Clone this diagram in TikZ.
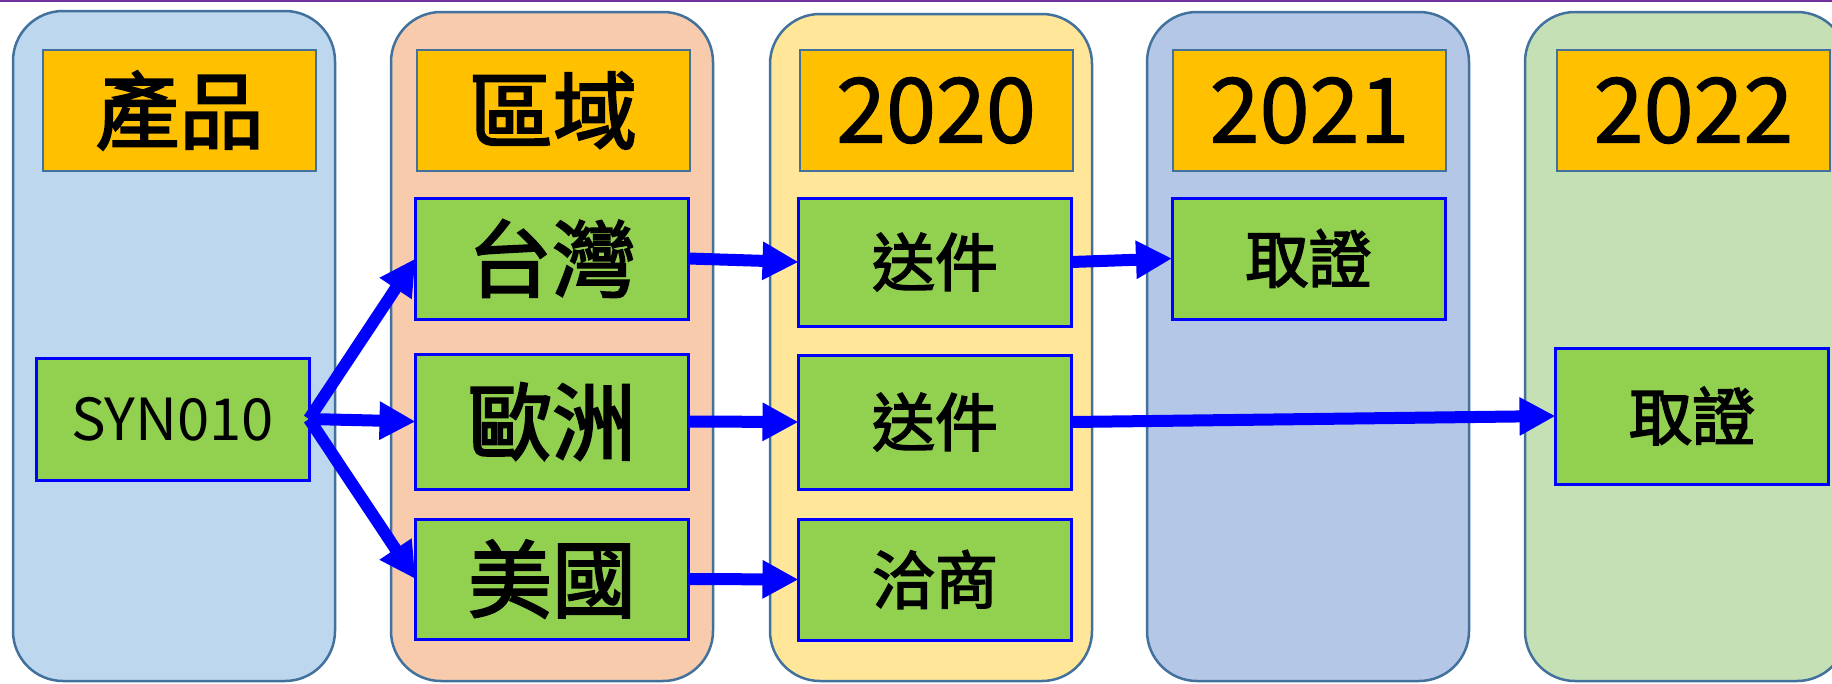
\documentclass[tikz,border=0pt]{standalone}
\usepackage{fontspec}
\setmainfont{Noto Sans CJK TC}
\newfontfamily\cjkmed{Noto Sans CJK TC}[FakeBold=2.5]
\newfontfamily\nummed{Noto Sans CJK TC}[FakeBold=1.2]
\usetikzlibrary{arrows.meta}
\definecolor{cA}{HTML}{BDD7EE}
\definecolor{cB}{HTML}{F8CBAD}
\definecolor{cC}{HTML}{FFE699}
\definecolor{cD}{HTML}{B4C7E7}
\definecolor{cE}{HTML}{C5E0B4}
\definecolor{hdrc}{HTML}{FFC000}
\definecolor{grn}{HTML}{92D050}
\definecolor{bord}{HTML}{41719C}
\definecolor{arrblue}{HTML}{0000FF}
\definecolor{topline}{HTML}{7030A0}
\newcommand\fhdr{\cjkmed\fontsize{84}{84}\selectfont}
\newcommand\fnum{\nummed\fontsize{90}{90}\selectfont}
\newcommand\fbigc{\cjkmed\fontsize{84}{84}\selectfont}
\newcommand\fmidc{\cjkmed\fontsize{63}{63}\selectfont}
\newcommand\fsyn{\fontsize{58}{58}\selectfont}
\begin{document}
\begin{tikzpicture}[x=1pt,y=-1pt,
  colbox/.style={draw=bord, line width=2.5pt, rounded corners=50pt, minimum width=322pt, inner sep=0pt, outer sep=0pt},
  hdr/.style={draw=bord, line width=2pt, fill=hdrc, minimum width=273pt, minimum height=121pt, inner sep=0pt, outer sep=0pt},
  gbox/.style={draw=arrblue, line width=3pt, fill=grn, minimum width=273pt, inner sep=0pt, outer sep=0pt},
  arr/.style={draw=arrblue, line width=12pt, -{Triangle[length=36pt,width=36pt]}}]
\clip (0,0) rectangle (1832,683);
% columns
\node[colbox, fill=cA, minimum height=670pt] (col1) at (174,346) {};
\node[colbox, fill=cB, minimum height=669pt] (col2) at (552,346.5) {};
\node[colbox, fill=cC, minimum height=667pt] (col3) at (931,347.5) {};
\node[colbox, fill=cD, minimum height=669pt] (col4) at (1308,346.5) {};
\node[colbox, fill=cE, minimum height=669pt] (col5) at (1686,346.5) {};
% headers
\node[hdr] (h1) at (179.5,110.5) {\fhdr 產品};
\node[hdr] (h2) at (553,110.5) {\fhdr 區域};
\node[hdr] (h3) at (936,110.5) {\fnum 2020};
\node[hdr] (h4) at (1309.5,110.5) {\fnum 2021};
\node[hdr] (h5) at (1693.5,110.5) {\fnum 2022};
% green boxes
\node[gbox, minimum height=122pt] (syn) at (172.5,419) {\fsyn SYN010};
\node[gbox, minimum height=121pt] (tw) at (552,258.5) {\fbigc 台灣};
\node[gbox, minimum height=135pt] (eu) at (552,421.5) {\fbigc 歐洲};
\node[gbox, minimum height=120pt] (us) at (552,579) {\fbigc 美國};
\node[gbox, minimum height=128pt] (s1) at (935,262) {\fmidc 送件};
\node[gbox, minimum height=134pt] (s2) at (935,422) {\fmidc 送件};
\node[gbox, minimum height=121pt] (qs) at (935,579.5) {\fmidc 洽商};
\node[gbox, minimum height=121pt] (q1) at (1308.5,258.5) {\fmidc 取證};
\node[gbox, minimum height=136pt] (q2) at (1692,416) {\fmidc 取證};
% arrows
\draw[arr] (syn.east) -- (tw.west);
\draw[arr] (syn.east) -- (eu.west);
\draw[arr] (syn.east) -- (us.west);
\draw[arr] (tw.east) -- (s1.west);
\draw[arr] (eu.east) -- (s2.west);
\draw[arr] (us.east) -- (qs.west);
\draw[arr] (s1.east) -- (q1.west);
\draw[arr] (s2.east) -- (q2.west);
% top rule
\coordinate (tl) at (0,0.8);
\coordinate (tr) at (1832,0.8);
\draw[topline, line width=1.6pt] (tl) -- (tr);
\end{tikzpicture}
\end{document}
